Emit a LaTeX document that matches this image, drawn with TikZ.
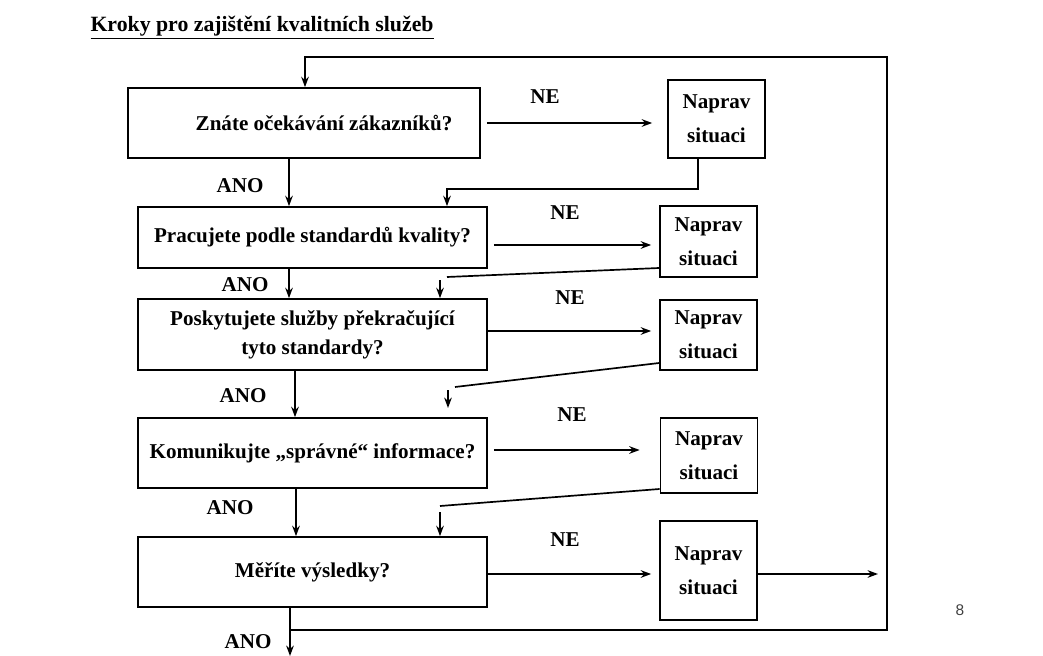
\documentclass[tikz,border=0pt]{standalone}
\usepackage{fontspec}
\setmainfont{Liberation Serif}
\newfontfamily\pagefont{Liberation Sans}
\usetikzlibrary{arrows.meta}

\begin{document}
\begin{tikzpicture}[x = 0.25mm, y = -0.25mm, > = {Stealth[length=2.6mm, width=1.9mm]}, line width = 1.2pt,
            question/.style = {draw, inner sep = 0pt, align = center, font = \fontsize{15}{20.5}\selectfont\bfseries},
            fixbox/.style = {draw, inner sep = 0pt, align = center, minimum width = 24.25mm, font = \fontsize{15}{24}\selectfont\bfseries},
            answer/.style = {font = \fontsize{15}{18}\selectfont\bfseries}]
            \useasboundingbox (0, 0) rectangle (1043, 656);

            \node[anchor = west, font = \fontsize{15.5}{17}\selectfont\bfseries] (title) at (85, 28) {\underline{Kroky pro zajištění kvalitních služeb}};

            \node[question, minimum width = 88mm, minimum height = 17.5mm] (q1) at (304, 123) {\hspace*{10mm}Znáte očekávání zákazníků?};
            \node[question, minimum width = 87.25mm, minimum height = 15.25mm] (q2) at (312.5, 237.5) {Pracujete podle standardů kvality?};
            \node[question, minimum width = 87.25mm, minimum height = 17.75mm] (q3) at (312.5, 334.5) {Poskytujete služby překračující\\tyto standardy?};
            \node[question, minimum width = 87.25mm, minimum height = 17.5mm] (q4) at (312.5, 453) {Komunikujte „správné“ informace?};
            \node[question, minimum width = 87.25mm, minimum height = 17.5mm] (q5) at (312.5, 572) {Měříte výsledky?};

            \node[fixbox, minimum height = 19.5mm] (n1) at (716.5, 119) {Naprav\\situaci};
            \node[fixbox, minimum height = 17.75mm] (n2) at (708.5, 241.5) {Naprav\\situaci};
            \node[fixbox, minimum height = 17.5mm] (n3) at (708.5, 335) {Naprav\\situaci};
            \node[fixbox, minimum height = 18.75mm] (n4) at (709, 455.5) {Naprav\\situaci};
            \node[fixbox, minimum height = 24.75mm] (n5) at (708.5, 570.5) {Naprav\\situaci};

            \node[answer] (ne1) at (545, 97) {NE};
            \node[answer] (ne2) at (565, 213) {NE};
            \node[answer] (ne3) at (570, 298) {NE};
            \node[answer] (ne4) at (572, 415) {NE};
            \node[answer] (ne5) at (565, 540) {NE};

            \node[answer] (ano1) at (240, 186) {ANO};
            \node[answer] (ano2) at (245, 285) {ANO};
            \node[answer] (ano3) at (243, 396) {ANO};
            \node[answer] (ano4) at (230, 508) {ANO};
            \node[answer] (ano5) at (248, 642) {ANO};

            \node[font = \pagefont\fontsize{11}{13}\selectfont, text = black!75] (page) at (960, 610) {8};

            \coordinate (loopL) at (305, 57);
            \coordinate (loopR) at (887, 57);
            \coordinate (loopB) at (887, 630);
            \coordinate (join) at (290, 630);
            \coordinate (out) at (290, 656);

            \draw[->] (join) -- (loopB) -- (loopR) -- (loopL) -- (q1.north -| loopL);
            \draw[->] (q5.south -| out) -- (out);

            \draw[->] (q1.south -| 289, 0) -- (q2.north -| 289, 0);
            \draw[->] (q2.south -| 289, 0) -- (q3.north -| 289, 0);
            \draw[->] (q3.south -| 295, 0) -- (q4.north -| 295, 0);
            \draw[->] (q4.south -| 296, 0) -- (q5.north -| 296, 0);

            \draw[->, shorten < = 1.5mm, shorten > = 3.75mm] (q1.east) -- (n1.west |- q1.east);
            \draw[->, shorten < = 1.5mm, shorten > = 2mm] (q2.east |- 0, 245) -- (n2.west |- 0, 245);
            \draw[->, shorten > = 2mm] (q3.east |- 0, 331) -- (n3.west |- 0, 331);
            \draw[->, shorten < = 1.5mm, shorten > = 5mm] (q4.east |- 0, 450) -- (n4.west |- 0, 450);
            \draw[->, shorten > = 2mm] (q5.east |- 0, 574) -- (n5.west |- 0, 574);
            \draw[->, shorten > = 2.25mm] (n5.east |- 0, 574) -- (loopB |- 0, 574);

            \draw[->] (n1.south -| 698, 0) |- (447, 189) -- (q2.north -| 447, 0);
            \draw (n2.west |- 0, 268) -- (447, 277);
            \draw[->] (440, 280) -- (q3.north -| 440, 0);
            \draw (n3.west |- 0, 363) -- (455, 387);
            \draw[->] (448, 390) -- (448, 408);
            \draw (n4.west |- 0, 489) -- (440, 506);
            \draw[->] (440, 512) -- (q5.north -| 440, 0);

        \end{tikzpicture}
\end{document}
